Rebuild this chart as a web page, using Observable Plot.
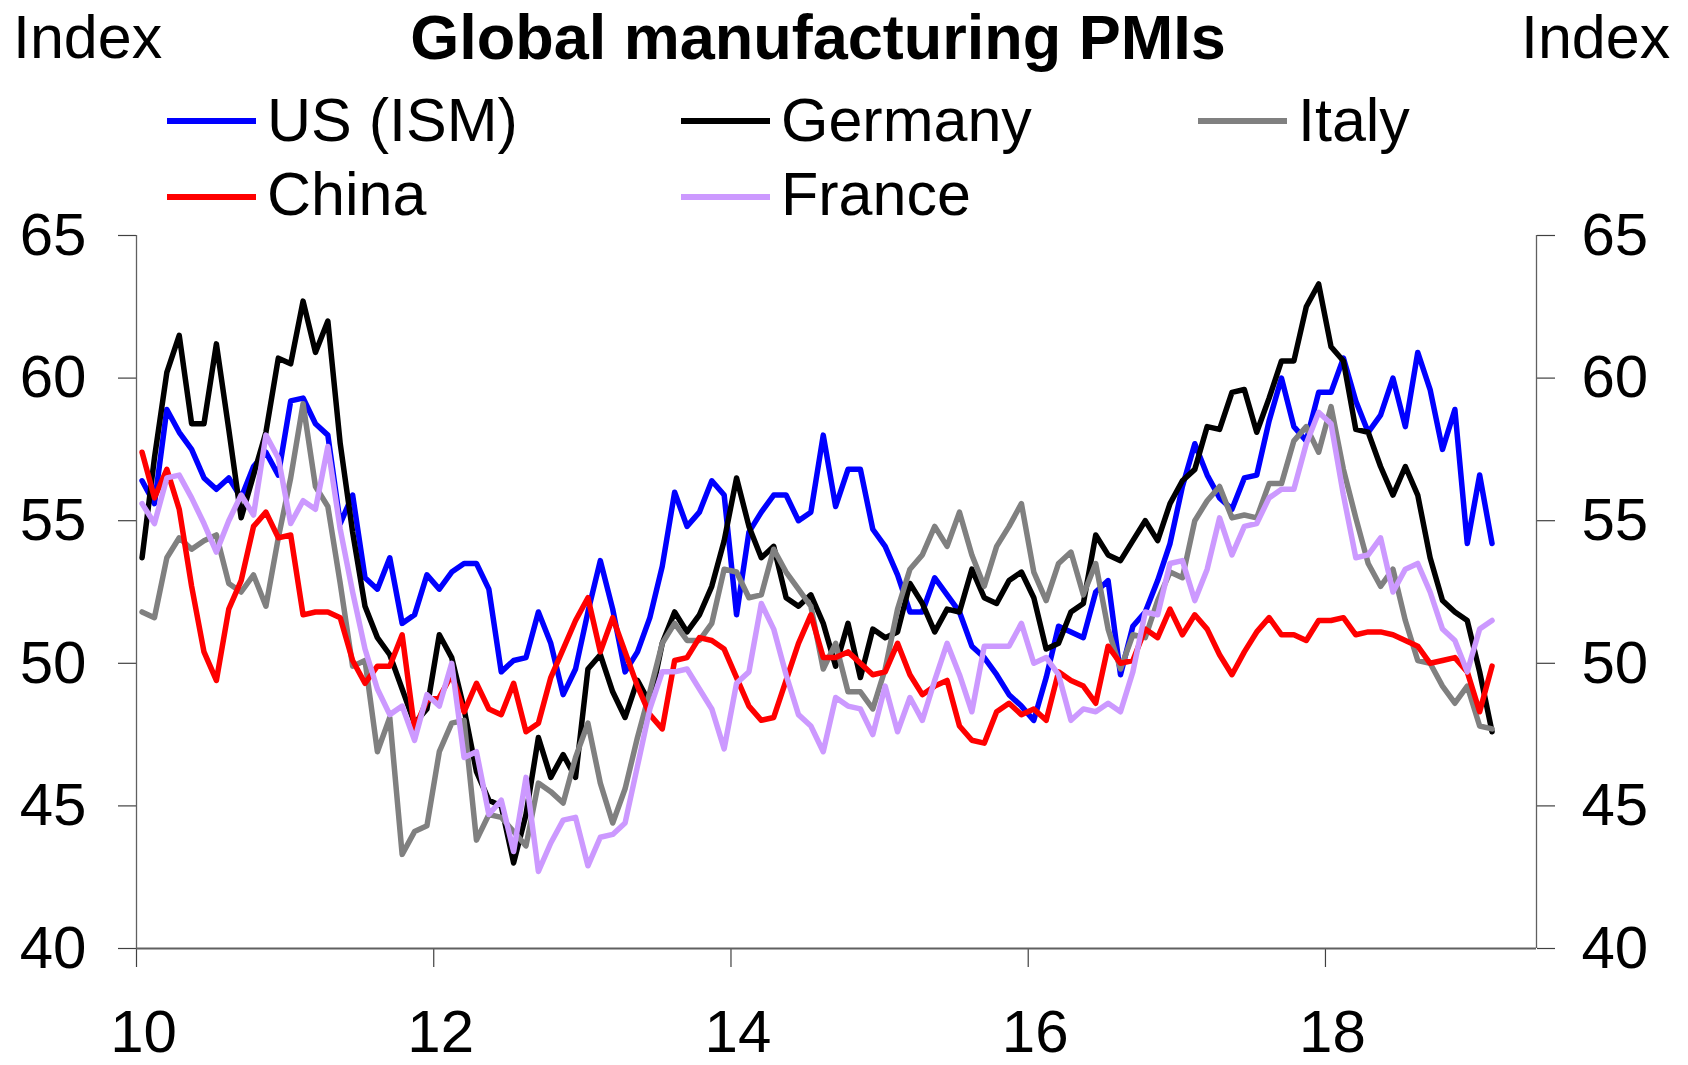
<!DOCTYPE html>
<html>
<head>
<meta charset="utf-8">
<script src="https://cdn.jsdelivr.net/npm/d3@7"></script>
<script src="https://cdn.jsdelivr.net/npm/@observablehq/plot@0.6"></script>
<style>
  body { margin: 0; background: #fff; }
  #wrap { position: relative; width: 1688px; height: 1065px; overflow: hidden;
          font-family: "Liberation Sans", Arial, sans-serif; color: #000; background: #fff; }
  .t { position: absolute; white-space: nowrap; line-height: 1; }
  .sw { position: absolute; height: 6px; }
  #chart { position: absolute; left: 0; top: 200px; }
</style>
</head>
<body>
<div id="wrap"><div id="chart"></div></div>
<script>
// ---- data (monthly, Jan 2010 – Feb 2019) ----
const startYear = 2010;
const seriesNames = ["US (ISM)", "Germany", "Italy", "China", "France"];
const seriesColors = ["#0000ff", "#000000", "#808080", "#ff0000", "#cc99ff"];
const xTicks = [2010, 2012, 2014, 2016, 2018];
const yTicks = [40, 45, 50, 55, 60, 65];

const us = [
  56.4, 55.6, 58.9, 58.1, 57.5, 56.5, 56.1, 56.5, 55.8, 56.9, 57.4, 56.6,
  59.2, 59.3, 58.4, 58.0, 54.9, 55.9, 53.0, 52.6, 53.7, 51.4, 51.7, 53.1,
  52.6, 53.2, 53.5, 53.5, 52.6, 49.7, 50.1, 50.2, 51.8, 50.7, 48.9, 49.8,
  51.8, 53.6, 51.9, 49.7, 50.4, 51.6, 53.4, 56.0, 54.8, 55.3, 56.4, 55.9,
  51.7, 54.6, 55.3, 55.9, 55.9, 55.0, 55.3, 58.0, 55.5, 56.8, 56.8, 54.7,
  54.1, 53.1, 51.8, 51.8, 53.0, 52.4, 51.8, 50.6, 50.2, 49.6, 48.9, 48.5,
  48.0, 49.5, 51.3, 51.1, 50.9, 52.5, 52.9, 49.6, 51.3, 51.8, 52.9, 54.2,
  56.2, 57.7, 56.6, 55.8, 55.4, 56.5, 56.6, 58.5, 60.0, 58.3, 57.8, 59.5,
  59.5, 60.7, 59.2, 58.1, 58.7, 60.0, 58.3, 60.9, 59.6, 57.5, 58.9, 54.2,
  56.6, 54.2
];
const germany = [
  53.7, 57.2, 60.2, 61.5, 58.4, 58.4, 61.2, 58.2, 55.1, 56.6, 58.1, 60.7,
  60.5, 62.7, 60.9, 62.0, 57.7, 54.6, 52.0, 50.9, 50.3, 49.1, 47.9, 48.4,
  51.0, 50.2, 48.4, 46.2, 45.2, 45.0, 43.0, 44.7, 47.4, 46.0, 46.8, 46.0,
  49.8, 50.3, 49.0, 48.1, 49.4, 48.6, 50.7, 51.8, 51.1, 51.7, 52.7, 54.3,
  56.5, 54.8, 53.7, 54.1, 52.3, 52.0, 52.4, 51.4, 49.9, 51.4, 49.5, 51.2,
  50.9, 51.1, 52.8, 52.1, 51.1, 51.9, 51.8, 53.3, 52.3, 52.1, 52.9, 53.2,
  52.3, 50.5, 50.7, 51.8, 52.1, 54.5, 53.8, 53.6, 54.3, 55.0, 54.3, 55.6,
  56.4, 56.8, 58.3, 58.2, 59.5, 59.6, 58.1, 59.3, 60.6, 60.6, 62.5, 63.3,
  61.1, 60.6, 58.2, 58.1, 56.9, 55.9, 56.9, 55.9, 53.7, 52.2, 51.8, 51.5,
  49.7, 47.6
];
const italy = [
  51.8, 51.6, 53.7, 54.4, 54.0, 54.3, 54.5, 52.8, 52.5, 53.1, 52.0, 54.4,
  56.5, 59.1, 56.2, 55.5, 52.8, 49.9, 50.1, 46.9, 48.1, 43.3, 44.1, 44.3,
  46.9, 47.9, 48.0, 43.8, 44.7, 44.6, 44.1, 43.6, 45.8, 45.5, 45.1, 46.7,
  47.9, 45.8, 44.4, 45.6, 47.4, 49.0, 50.7, 51.4, 50.8, 50.8, 51.4, 53.3,
  53.2, 52.3, 52.4, 54.0, 53.2, 52.6, 52.0, 49.8, 50.7, 49.0, 49.0, 48.4,
  49.8, 51.9, 53.3, 53.8, 54.8, 54.1, 55.3, 53.8, 52.7, 54.1, 54.8, 55.6,
  53.2, 52.2, 53.5, 53.9, 52.4, 53.5, 51.2, 49.8, 51.0, 50.9, 52.2, 53.2,
  53.0, 55.0, 55.7, 56.2, 55.1, 55.2, 55.1, 56.3, 56.3, 57.8, 58.3, 57.4,
  59.0, 56.8, 55.1, 53.5, 52.7, 53.3, 51.5, 50.1, 50.0, 49.2, 48.6, 49.2,
  47.8, 47.7
];
const china = [
  57.4, 55.8, 56.8, 55.4, 52.7, 50.4, 49.4, 51.9, 52.9, 54.8, 55.3, 54.4,
  54.5, 51.7, 51.8, 51.8, 51.6, 50.1, 49.3, 49.9, 49.9, 51.0, 47.7, 48.7,
  48.8, 49.6, 48.3, 49.3, 48.4, 48.2, 49.3, 47.6, 47.9, 49.5, 50.5, 51.5,
  52.3, 50.4, 51.6, 50.4, 49.2, 48.2, 47.7, 50.1, 50.2, 50.9, 50.8, 50.5,
  49.5, 48.5, 48.0, 48.1, 49.4, 50.7, 51.7, 50.2, 50.2, 50.4, 50.0, 49.6,
  49.7, 50.7, 49.6, 48.9, 49.2, 49.4, 47.8, 47.3, 47.2, 48.3, 48.6, 48.2,
  48.4, 48.0, 49.7, 49.4, 49.2, 48.6, 50.6, 50.0, 50.1, 51.2, 50.9, 51.9,
  51.0, 51.7, 51.2, 50.3, 49.6, 50.4, 51.1, 51.6, 51.0, 51.0, 50.8, 51.5,
  51.5, 51.6, 51.0, 51.1, 51.1, 51.0, 50.8, 50.6, 50.0, 50.1, 50.2, 49.7,
  48.3, 49.9
];
const france = [
  55.6, 54.9, 56.5, 56.6, 55.8, 54.9, 53.9, 55.0, 55.9, 55.2, 58.0, 57.2,
  54.9, 55.7, 55.4, 57.6, 54.7, 52.5, 50.5, 49.1, 48.2, 48.5, 47.3, 48.9,
  48.5, 50.0, 46.7, 46.9, 44.7, 45.2, 43.4, 46.0, 42.7, 43.7, 44.5, 44.6,
  42.9, 43.9, 44.0, 44.4, 46.4, 48.4, 49.7, 49.7, 49.8, 49.1, 48.4, 47.0,
  49.3, 49.7, 52.1, 51.2, 49.6, 48.2, 47.8, 46.9, 48.8, 48.5, 48.4, 47.5,
  49.2, 47.6, 48.8, 48.0, 49.4, 50.7, 49.6, 48.3, 50.6, 50.6, 50.6, 51.4,
  50.0, 50.2, 49.6, 48.0, 48.4, 48.3, 48.6, 48.3, 49.7, 51.8, 51.7, 53.5,
  53.6, 52.2, 53.3, 55.1, 53.8, 54.8, 54.9, 55.8, 56.1, 56.1, 57.7, 58.8,
  58.4, 55.9, 53.7, 53.8, 54.4, 52.5, 53.3, 53.5, 52.5, 51.2, 50.8, 49.7,
  51.2, 51.5
];

// ---- build table ----
const seriesValues = [us, germany, italy, china, france];
const rows = [];
seriesNames.forEach((name, s) => {
  seriesValues[s].forEach((v, i) => rows.push({ series: name, t: startYear + (i + 0.45) / 12, v }));
});

// ---- header: title, axis titles, legend (HTML above the SVG) ----
const wrap = document.getElementById("wrap");
function addText(str, x, baseline, size, weight, anchor) {
  const d = document.createElement("div");
  d.className = "t";
  d.textContent = str;
  d.style.fontSize = size + "px";
  d.style.fontWeight = weight;
  d.style.top = (baseline - 0.8465 * size) + "px";
  d.style.left = x + "px";
  if (anchor === "middle") d.style.transform = "translateX(-50%)";
  wrap.appendChild(d);
}
const FS = 61;
addText("Index", 13, 59, FS, "normal");
addText("Index", 1521, 59, FS, "normal");
addText("Global manufacturing PMIs", 818, 59, 63, "bold", "middle");

const legendPos = [
  { x: 167, y: 121, b: 142 }, { x: 681, y: 121, b: 142 }, { x: 1198, y: 121, b: 142 },
  { x: 167, y: 197, b: 216 }, { x: 681, y: 197, b: 216 }
];
seriesNames.forEach((name, s) => {
  const p = legendPos[s];
  const sw = document.createElement("div");
  sw.className = "sw";
  sw.style.left = p.x + "px";
  sw.style.top = (p.y - 3) + "px";
  sw.style.width = "89px";
  sw.style.background = seriesColors[s];
  wrap.appendChild(sw);
  addText(name, p.x + 100, p.b, FS, "normal");
});

// ---- chart ----
const xDomain = [2010, 2019.42];
const chart = Plot.plot({
  width: 1688,
  height: 865,
  marginLeft: 136,
  marginRight: 152,
  marginTop: 35,
  marginBottom: 117,
  style: { fontFamily: '"Liberation Sans", Arial, sans-serif', fontSize: "60px", color: "#000", background: "transparent", overflow: "visible" },
  x: { type: "linear", domain: xDomain },
  y: { domain: [40, 65] },
  color: { domain: seriesNames, range: seriesColors },
  marks: [
    Plot.axisY(yTicks, { anchor: "left", tickSize: 18, tickPadding: 32, label: null, stroke: "#404040", strokeWidth: 1.2 }),
    Plot.axisY(yTicks, { anchor: "right", tickSize: 18, tickPadding: 27, label: null, stroke: "#404040", strokeWidth: 1.2 }),
    // x tick marks
    Plot.axisX(xTicks, { anchor: "bottom", tickSize: 19, label: null, stroke: "#404040", strokeWidth: 1.2,
                         tickFormat: () => "" }),
    // x tick labels (slightly right of the tick, as in the original)
    Plot.axisX(xTicks, { anchor: "bottom", tickSize: 0, tickPadding: 61, dx: 7, label: null,
                         tickFormat: d => String(d).slice(2) }),
    Plot.ruleX([xDomain[0]], { stroke: "#606060", strokeWidth: 1.3 }),
    Plot.ruleX([xDomain[1]], { stroke: "#606060", strokeWidth: 1.3 }),
    Plot.ruleY([40], { stroke: "#606060", strokeWidth: 1.8 }),
    Plot.line(rows, { x: "t", y: "v", z: "series", stroke: "series", strokeWidth: 5.5 })
  ]
});
document.getElementById("chart").appendChild(chart);
</script>
</body>
</html>
